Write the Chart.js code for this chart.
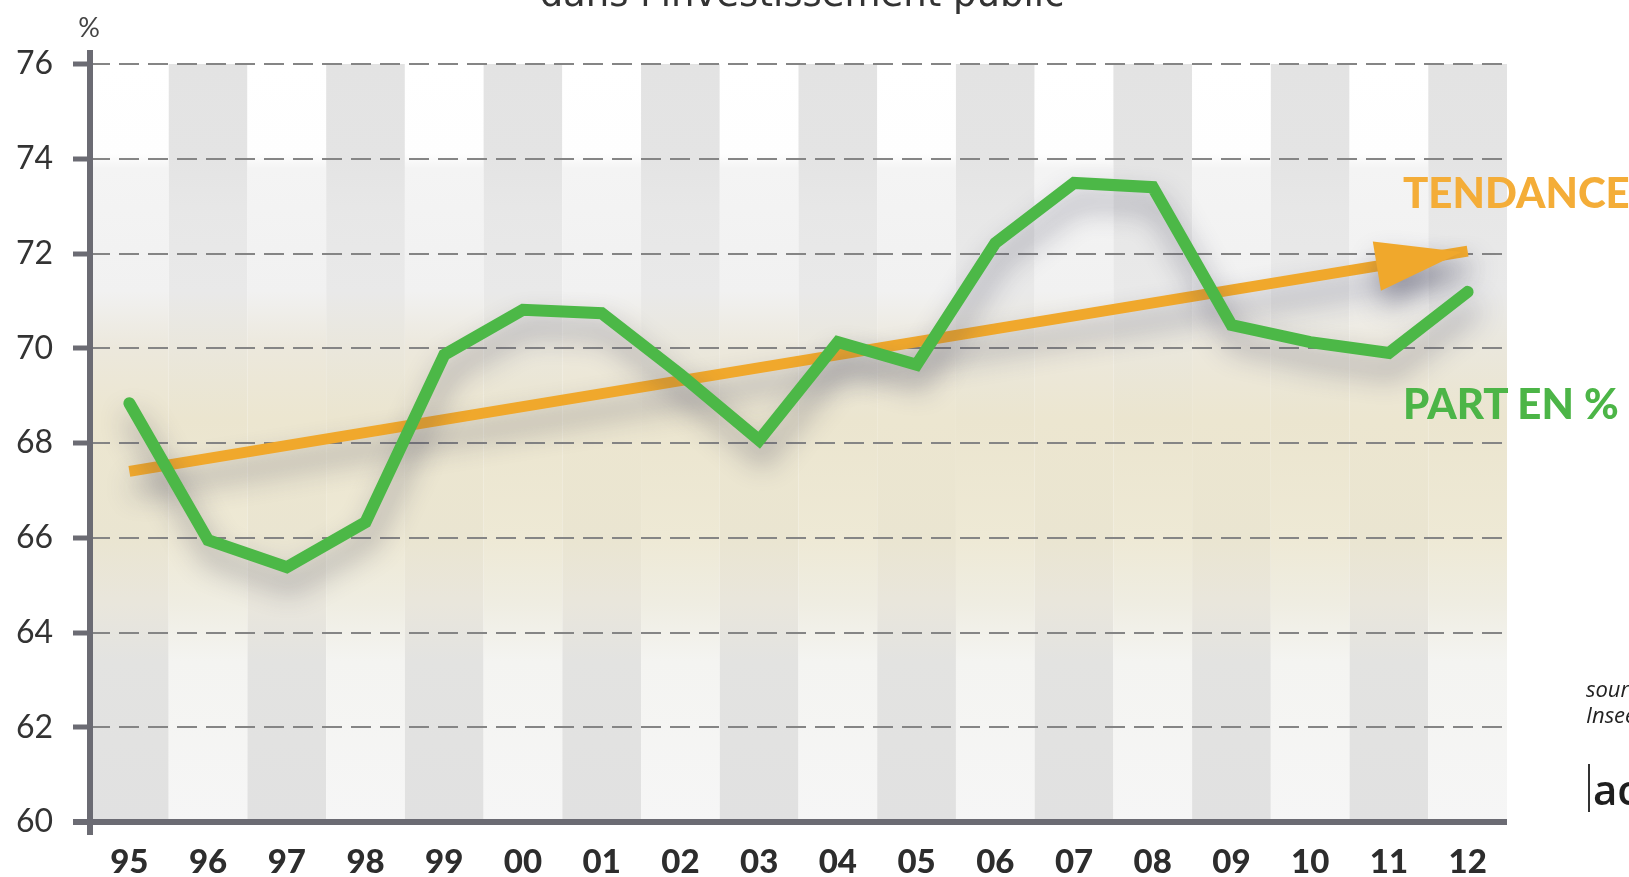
<!DOCTYPE html>
<html><head><meta charset="utf-8">
<script src="https://cdn.jsdelivr.net/npm/chart.js@4.4.1/dist/chart.umd.min.js"></script>
<style>
html,body{margin:0;padding:0;background:#fff;overflow:hidden}
#wrap{position:relative;width:1629px;height:877px;overflow:hidden;background:#fff}
canvas{display:block;position:absolute;left:0;top:0}
.t{position:absolute;white-space:nowrap;font-family:Lato,"Open Sans",sans-serif}
</style>
</head><body>
<div id="wrap">
<canvas id="c" width="1629" height="877"></canvas>
<div class="t" style="left:0;width:1604px;top:-25px;text-align:center;font-size:37px;line-height:37px;color:#333;font-weight:400;font-family:'DejaVu Sans',sans-serif">dans l'investissement public</div>
<div class="t" style="left:74px;width:30px;top:12px;text-align:center;font-size:27px;line-height:30px;color:#444">%</div>
<div class="t" style="left:1403px;top:166px;font-size:42px;line-height:52px;font-weight:900;color:#f4ad38">TENDANCE</div>
<div class="t" style="left:1403px;top:377px;font-size:42px;line-height:52px;font-weight:900;color:#4cb547">PART EN %</div>
<div class="t" style="left:1586px;top:674px;font-size:22px;line-height:28px;font-style:italic;color:#222;font-family:'Open Sans',sans-serif">source :</div>
<div class="t" style="left:1586px;top:700px;font-size:22px;line-height:28px;font-style:italic;color:#222;font-family:'Open Sans',sans-serif">Insee</div>
<div style="position:absolute;left:1588px;top:764px;width:2px;height:48px;background:#333"></div>
<div class="t" style="left:1593px;top:764px;font-size:42px;line-height:50px;font-weight:600;color:#1e1e1e;font-family:'Open Sans',sans-serif">acteurs publics</div>
</div>
<script>
// ---- data ----
const years = ['95','96','97','98','99','00','01','02','03','04','05','06','07','08','09','10','11','12'];
const partEnPct = [68.84, 65.95, 65.38, 66.33, 69.86, 70.81, 70.74, 69.45, 68.06, 70.13, 69.65, 72.22, 73.49, 73.40, 70.49, 70.13, 69.90, 71.19];
const tendance = [67.40, null, null, null, null, null, null, null, null, null, null, null, null, null, null, null, null, 72.05];
const yTicks = [60, 62, 64, 66, 68, 70, 72, 74, 76];

const GREEN = '#4cb847';
const ORANGE = '#f0a82c';
const AXIS = '#6b6b73';

// stripe gradients: [value, colour]
const stripeOdd = [[76,'#e3e3e3'],[74,'#e4e4e4'],[73,'#e7e7e7'],[71.2,'#e9e9e9'],[70,'#eae7dc'],[68.5,'#ebe5cf'],[66,'#eee9d5'],[64.6,'#efede2'],[63.4,'#f4f4f1'],[60,'#f6f6f6']];
const stripeEven = [[76,'#ffffff'],[74.1,'#fefefe'],[73.8,'#f4f4f4'],[71.2,'#f1f1f1'],[70,'#ece8dc'],[68.5,'#ece6d0'],[66,'#eae5d1'],[64.6,'#e9e6dc'],[63.4,'#e3e3e1'],[60,'#e1e1e1']];

const bgPlugin = {
  id: 'bg',
  beforeDraw(chart) {
    const {ctx, chartArea: a, scales: {x, y}} = chart;
    const band = x.getPixelForValue(1) - x.getPixelForValue(0);
    const mk = (stops) => {
      const g = ctx.createLinearGradient(0, a.top, 0, a.bottom);
      stops.forEach(([v, c]) => {
        let f = (y.getPixelForValue(v) - a.top) / (a.bottom - a.top);
        f = Math.max(0, Math.min(1, f));
        g.addColorStop(f, c);
      });
      return g;
    };
    const gOdd = mk(stripeOdd), gEven = mk(stripeEven);
    ctx.save();
    years.forEach((_, i) => {
      const cx = x.getPixelForValue(i);
      const x0 = Math.max(a.left, cx - band / 2), x1 = Math.min(a.right, cx + band / 2);
      ctx.fillStyle = (i % 2) ? gOdd : gEven;
      ctx.fillRect(x0, a.top, x1 - x0, a.bottom - a.top);
    });
    ctx.restore();
  }
};

const shadowPlugin = {
  id: 'shadow',
  beforeDatasetDraw(chart) {
    const ctx = chart.ctx;
    ctx.save();
    ctx.shadowColor = 'rgba(65,65,90,0.48)';
    ctx.shadowBlur = 28;
    ctx.shadowOffsetX = 4;
    ctx.shadowOffsetY = 17;
  },
  afterDatasetDraw(chart, args) {
    const ctx = chart.ctx;
    if (args.index === 0) {
      // arrow head for the trend line
      const meta = chart.getDatasetMeta(0);
      const pts = meta.data.filter((p, i) => tendance[i] !== null);
      const p0 = pts[0], p1 = pts[pts.length - 1];
      const dx = p1.x - p0.x, dy = p1.y - p0.y, L = Math.hypot(dx, dy);
      const ux = dx / L, uy = dy / L, nx = -uy, ny = ux;
      const tipX = p1.x - 6 * ux, tipY = p1.y - 6 * uy;
      const bx = tipX - 86 * ux, by = tipY - 86 * uy;
      ctx.fillStyle = ORANGE;
      ctx.beginPath();
      ctx.moveTo(tipX, tipY);
      ctx.lineTo(bx + 25 * nx, by + 25 * ny);
      ctx.lineTo(bx - 25 * nx, by - 25 * ny);
      ctx.closePath();
      ctx.fill();
    }
    ctx.restore();
  }
};

const axesPlugin = {
  id: 'axesLines',
  afterDraw(chart) {
    const {ctx, chartArea: a} = chart;
    ctx.save();
    ctx.strokeStyle = AXIS;
    ctx.lineWidth = 6;
    ctx.lineCap = 'butt';
    ctx.beginPath();
    ctx.moveTo(a.left, a.top - 14);
    ctx.lineTo(a.left, a.bottom + 13);
    ctx.stroke();
    ctx.beginPath();
    ctx.moveTo(a.left - 17, a.bottom);
    ctx.lineTo(a.right, a.bottom);
    ctx.stroke();
    ctx.restore();
  }
};

new Chart(document.getElementById('c'), {
  type: 'line',
  data: {
    labels: years,
    datasets: [
      {
        label: 'TENDANCE',
        data: tendance,
        spanGaps: true,
        borderColor: ORANGE,
        borderWidth: 11,
        borderCapStyle: 'butt',
        pointRadius: 0,
        pointHoverRadius: 0,
        tension: 0,
        order: 2
      },
      {
        label: 'PART EN %',
        data: partEnPct,
        borderColor: GREEN,
        borderWidth: 12,
        borderCapStyle: 'round',
        borderJoinStyle: 'miter',
        pointRadius: 0,
        pointHoverRadius: 0,
        tension: 0,
        order: 1
      }
    ]
  },
  options: {
    responsive: false,
    maintainAspectRatio: false,
    animation: false,
    devicePixelRatio: 1,
    layout: {padding: {left: 0, right: 122, top: 64, bottom: 0}},
    plugins: {legend: {display: false}, tooltip: {enabled: false}, title: {display: false}},
    scales: {
      x: {
        type: 'category',
        offset: true,
        grid: {display: false, drawTicks: false},
        border: {display: false},
        ticks: {
          color: '#2d2d2d',
          font: {family: 'Lato', weight: '900', size: 33},
          padding: 21,
          maxRotation: 0,
          autoSkip: false
        },
        afterFit(s) { s.height = 55; }
      },
      y: {
        min: 60,
        max: 76,
        afterBuildTicks(s) { s.ticks = yTicks.map(v => ({value: v})); },
        grid: {
          color: (c) => (c.tick && c.tick.value === 60) ? 'rgba(0,0,0,0)' : '#858585',
          lineWidth: 2,
          drawTicks: true,
          tickLength: 17,
          tickWidth: 5,
          tickColor: AXIS,
          tickBorderDash: []
        },
        border: {display: false, dash: [20, 9]},
        ticks: {
          color: '#333',
          font: {family: 'Lato', weight: '400', size: 32},
          padding: 20,
          callback: (v) => String(v)
        },
        afterFit(s) { s.width = 90; }
      }
    }
  },
  plugins: [bgPlugin, shadowPlugin, axesPlugin]
});
</script>
</body></html>
